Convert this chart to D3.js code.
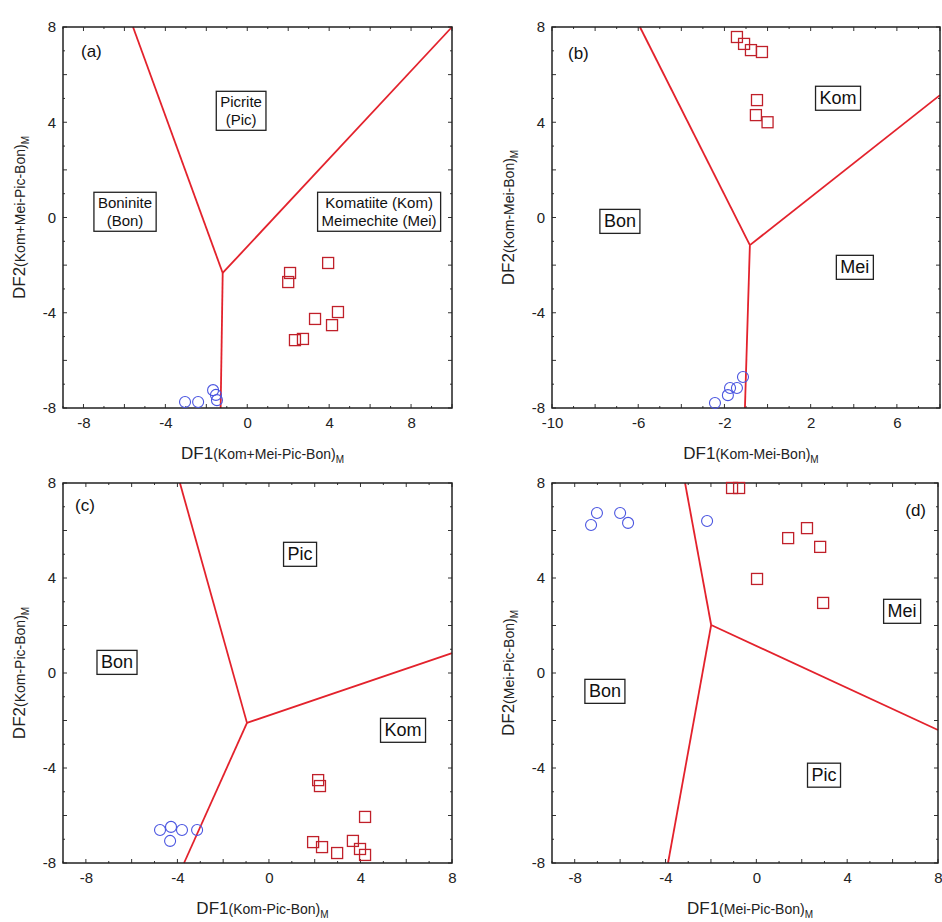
<!DOCTYPE html>
<html>
<head>
<meta charset="utf-8">
<script src="https://cdn.jsdelivr.net/npm/d3@7"></script>
<style>
  body { margin: 0; background: #fff; }
  svg { font-family: "Liberation Sans", Arial, sans-serif; }
</style>
</head>
<body>
<svg id="chart" width="942" height="922"></svg>
<script>
// data
const x_ticks_a = [-8, -4, 0, 4, 8]
const x_ticks_b = [-10, -6, -2, 2, 6]
const x_ticks_c = [-8, -4, 0, 4, 8]
const x_ticks_d = [-8, -4, 0, 4, 8]
const y_ticks = [-8, -4, 0, 4, 8]

// boninites (circles) and komatiites (squares), [DF1, DF2]
const bon_a = [[-3.04, -7.75], [-2.4, -7.75], [-1.67, -7.25], [-1.53, -7.45], [-1.48, -7.67]]
const kom_a = [[2.09, -2.33], [2.0, -2.71], [3.95, -1.91], [3.31, -4.26], [4.43, -3.97], [4.14, -4.52], [2.33, -5.15], [2.72, -5.1]]
const bon_b = [[-2.44, -7.79], [-1.84, -7.46], [-1.74, -7.16], [-1.42, -7.16], [-1.14, -6.7]]
const kom_b = [[-1.42, 7.58], [-1.09, 7.29], [-0.77, 7.03], [-0.26, 6.95], [-0.49, 4.93], [-0.54, 4.3], [0.0, 4.0]]
const bon_c = [[-4.76, -6.61], [-4.28, -6.48], [-3.8, -6.61], [-3.14, -6.61], [-4.32, -7.07]]
const kom_c = [[2.15, -4.51], [2.23, -4.76], [4.2, -6.06], [1.93, -7.12], [2.32, -7.33], [2.98, -7.58], [3.67, -7.07], [3.98, -7.41], [4.2, -7.66]]
const bon_d = [[-7.28, 6.23], [-7.02, 6.74], [-6.0, 6.74], [-5.65, 6.32], [-2.17, 6.4]]
const kom_d = [[-1.07, 7.79], [-0.76, 7.79], [1.4, 5.68], [2.23, 6.1], [2.81, 5.31], [0.03, 3.96], [2.94, 2.95]]

// field boundaries: triple point, then the three end points
const bound_a = [[-1.2, -2.33], [-5.58, 8], [10, 8], [-1.3, -8]]
const bound_b = [[-0.82, -1.16], [-5.92, 8], [8, 5.14], [-1.05, -8]]
const bound_c = [[-0.96, -2.1], [-3.89, 8], [8, 0.84], [-3.71, -8]]
const bound_d = [[-1.99, 2.02], [-3.14, 8], [8, -2.4], [-3.89, -8]]

// field names [text lines, DF1, DF2]
const fields_a = [[["Picrite", "(Pic)"], -0.3, 4.47], [["Boninite", "(Bon)"], -5.97, 0.23], [["Komatiite (Kom)", "Meimechite (Mei)"], 6.44, 0.23]]
const fields_b = [[["Kom"], 3.27, 5.02], [["Bon"], -6.85, -0.15], [["Mei"], 4.05, -2.08]]
const fields_c = [[["Pic"], 1.36, 5.01], [["Bon"], -6.64, 0.46], [["Kom"], 5.86, -2.4]]
const fields_d = [[["Mei"], 6.42, 2.61], [["Bon"], -6.67, -0.76], [["Pic"], 2.98, -4.29]]

const titles_x = ["(Kom+Mei-Pic-Bon)", "(Kom-Mei-Bon)", "(Kom-Pic-Bon)", "(Mei-Pic-Bon)"]
const titles_y = ["(Kom+Mei-Pic-Bon)", "(Kom-Mei-Bon)", "(Kom-Pic-Bon)", "(Mei-Pic-Bon)"]

const color_line = '#e3222c'
const color_square = '#c0202a'
const color_circle = '#4a55e0'

const svg = d3.select('#chart')

const panels = [
    { tag: '(a)', left: 63, right: 452, top: 27, bottom: 408, xdom: [-9, 10], xt: x_ticks_a,
      bon: bon_a, kom: kom_a, bound: bound_a, fields: fields_a, fs: 15, tagx: 18, tagy: 30, tagEnd: false },
    { tag: '(b)', left: 552, right: 940, top: 27, bottom: 408, xdom: [-10, 8], xt: x_ticks_b,
      bon: bon_b, kom: kom_b, bound: bound_b, fields: fields_b, fs: 18, tagx: 16, tagy: 32, tagEnd: false },
    { tag: '(c)', left: 63, right: 452, top: 483, bottom: 863, xdom: [-9, 8], xt: x_ticks_c,
      bon: bon_c, kom: kom_c, bound: bound_c, fields: fields_c, fs: 18, tagx: 12, tagy: 28, tagEnd: false },
    { tag: '(d)', left: 552, right: 938, top: 483, bottom: 863, xdom: [-9, 8], xt: x_ticks_d,
      bon: bon_d, kom: kom_d, bound: bound_d, fields: fields_d, fs: 18, tagx: -12, tagy: 33, tagEnd: true }
]

panels.forEach((p, i) => {
    const w = p.right - p.left
    const h = p.bottom - p.top
    const g = svg.append('g').attr('transform', `translate(${p.left}, ${p.top})`)

    const x = d3.scaleLinear().domain(p.xdom).range([0, w])
    const y = d3.scaleLinear().domain([-8, 8]).range([h, 0])

    // minor ticks on all four sides, pointing in
    const xs = d3.range(Math.ceil(p.xdom[0]), p.xdom[1] + 0.01, 1)
    const ys = d3.range(-8, 8.01, 1)
    const tickLen = v => (Math.abs(v) % 2 === 0 ? 4 : 2)
    const tk = g.append('g').attr('stroke', '#333').attr('stroke-width', 1)
    xs.forEach(v => {
        tk.append('line').attr('x1', x(v)).attr('x2', x(v)).attr('y1', h).attr('y2', h - tickLen(v))
        tk.append('line').attr('x1', x(v)).attr('x2', x(v)).attr('y1', 0).attr('y2', tickLen(v))
    })
    ys.forEach(v => {
        tk.append('line').attr('y1', y(v)).attr('y2', y(v)).attr('x1', 0).attr('x2', tickLen(v))
        tk.append('line').attr('y1', y(v)).attr('y2', y(v)).attr('x1', w).attr('x2', w - tickLen(v))
    })

    // tick labels via the library axes (plain hyphen minus as in the original)
    const ax = g.append('g')
        .attr('transform', `translate(0, ${h})`)
        .call(d3.axisBottom(x).tickValues(p.xt).tickSize(0).tickPadding(9).tickFormat(d => String(d)))
    const ay = g.append('g')
        .call(d3.axisLeft(y).tickValues(y_ticks).tickSize(0).tickPadding(7).tickFormat(d => String(d)))
    ;[ax, ay].forEach(a => {
        a.select('.domain').remove()
        a.selectAll('text')
            .attr('font-size', 15)
            .attr('font-family', '"Liberation Sans", Arial, sans-serif')
            .attr('fill', '#222')
    })

    // field boundaries
    const v0 = p.bound[0]
    p.bound.slice(1).forEach(e => {
        g.append('line')
            .attr('x1', x(v0[0])).attr('y1', y(v0[1]))
            .attr('x2', x(e[0])).attr('y2', y(e[1]))
            .attr('stroke', color_line)
            .attr('stroke-width', 1.8)
    })

    // frame
    g.append('rect')
        .attr('width', w).attr('height', h)
        .attr('fill', 'none')
        .attr('stroke', '#222')
        .attr('stroke-width', 1.5)

    // field labels with boxes
    p.fields.forEach(f => {
        const lines = f[0]
        const lh = p.fs + 3
        const lab = g.append('g')
        const t = lab.append('text')
            .attr('text-anchor', 'middle')
            .attr('font-size', p.fs)
            .attr('fill', '#111')
        lines.forEach((s, k) => {
            t.append('tspan')
                .attr('x', x(f[1]))
                .attr('y', y(f[2]) + (k - (lines.length - 1) / 2) * lh + p.fs * 0.35)
                .text(s)
        })
        const bb = t.node().getBBox()
        lab.insert('rect', 'text')
            .attr('x', bb.x - 4).attr('y', bb.y - 2)
            .attr('width', bb.width + 8).attr('height', bb.height + 4)
            .attr('fill', '#fff')
            .attr('stroke', '#222')
            .attr('stroke-width', 1.3)
    })

    // samples
    g.selectAll('circle.bon')
        .data(p.bon)
        .join('circle')
            .attr('cx', d => x(d[0]))
            .attr('cy', d => y(d[1]))
            .attr('r', 5.5)
            .attr('fill', 'none')
            .attr('stroke', color_circle)
            .attr('stroke-width', 1.1)

    g.selectAll('rect.kom')
        .data(p.kom)
        .join('rect')
            .attr('x', d => x(d[0]) - 5.5)
            .attr('y', d => y(d[1]) - 5.5)
            .attr('width', 11)
            .attr('height', 11)
            .attr('fill', 'none')
            .attr('stroke', color_square)
            .attr('stroke-width', 1.3)

    // panel tag
    g.append('text')
        .attr('x', p.tagEnd ? w + p.tagx : p.tagx)
        .attr('y', p.tagy)
        .attr('text-anchor', p.tagEnd ? 'end' : 'start')
        .attr('font-size', 17)
        .attr('fill', '#111')
        .text(p.tag)

    // axis titles
    const xt = g.append('text')
        .attr('x', w / 2 + 5)
        .attr('y', h + 51)
        .attr('text-anchor', 'middle')
        .attr('fill', '#222')
    xt.append('tspan').attr('font-size', 17).text('DF1')
    xt.append('tspan').attr('font-size', 14).text(titles_x[i])
    xt.append('tspan').attr('font-size', 10).attr('dy', 4).text('M')

    const yt = g.append('text')
        .attr('transform', `translate(${-38}, ${h / 2}) rotate(-90)`)
        .attr('text-anchor', 'middle')
        .attr('fill', '#222')
    yt.append('tspan').attr('font-size', 17).text('DF2')
    yt.append('tspan').attr('font-size', 14).text(titles_y[i])
    yt.append('tspan').attr('font-size', 10).attr('dy', 4).text('M')
})
</script>
</body>
</html>
